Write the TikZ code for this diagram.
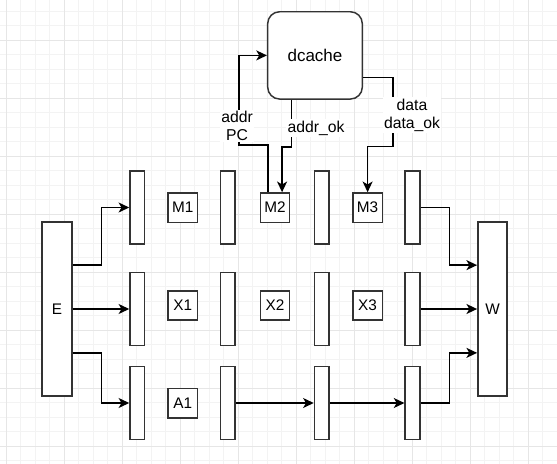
\documentclass[tikz,border=0pt]{standalone}
\usepackage{fontspec}
\setmainfont{Liberation Sans}
\usetikzlibrary{arrows.meta,calc}
\definecolor{gridminor}{HTML}{F3F3F3}
\definecolor{gridmajor}{HTML}{E6E6E6}
\definecolor{boxline}{HTML}{333333}
\tikzset{
  blk/.style={draw=boxline,line width=1.1pt,fill=white,inner sep=0pt},
  stage/.style={blk,minimum width=22.5pt,minimum height=130.5pt,font=\fontsize{11.5}{13}\selectfont},
  reg/.style={blk,minimum width=11pt,minimum height=54.75pt},
  unit/.style={blk,minimum width=22pt,minimum height=22pt,font=\fontsize{11.5}{13}\selectfont},
  cache/.style={blk,rounded corners=9pt,minimum width=71pt,minimum height=65.5pt,font=\fontsize{12.75}{14}\selectfont},
  lbl/.style={fill=white,inner sep=1pt,align=center,font=\fontsize{11.8}{13.5}\selectfont},
  wire/.style={draw=black,line width=1.1pt,-{Stealth[length=8pt,width=7.5pt,inset=2.2pt]}},
}
\begin{document}
\begin{tikzpicture}[x=0.75pt,y=-0.75pt]
\useasboundingbox (0,0) rectangle (557,464);
\fill[white] (0,0) rectangle (557,464);
% grid
\foreach \i in {0,...,38} {
  \draw[gridminor,line width=0.75pt] ({6.3+14.5*\i},0) -- ({6.3+14.5*\i},464);
}
\foreach \j in {0,...,32} {
  \draw[gridminor,line width=0.75pt] (0,{11.3+14.5*\j}) -- (557,{11.3+14.5*\j});
}
\foreach \i in {0,...,9} {
  \draw[gridmajor,line width=0.75pt] ({6.3+58*\i},0) -- ({6.3+58*\i},464);
}
\foreach \j in {-1,...,7} {
  \draw[gridmajor,line width=0.75pt] (0,{40.3+58*\j}) -- (557,{40.3+58*\j});
}
% big stages
\node[stage] (E) at (57,309) {E};
\node[stage,minimum width=22pt] (W) at (492.5,309) {W};
% registers
\node[reg] (r1M) at (137.3,207.5) {};
\node[reg] (r1X) at (137.3,309) {};
\node[reg] (r1A) at (137.3,403) {};
\node[reg] (r2M) at (227.6,207.5) {};
\node[reg] (r2X) at (227.6,309) {};
\node[reg] (r2A) at (227.6,403) {};
\node[reg] (r3M) at (321.8,207.5) {};
\node[reg] (r3X) at (321.8,309) {};
\node[reg] (r3A) at (321.8,403) {};
\node[reg] (r4M) at (412.5,207.5) {};
\node[reg] (r4X) at (412.5,309) {};
\node[reg] (r4A) at (412.5,403) {};
% units
\node[unit] (M1) at (182.8,207.6) {M1};
\node[unit] (X1) at (182.8,305.5) {X1};
\node[unit] (A1) at (182.8,403.4) {A1};
\node[unit] (M2) at (275,207.6) {M2};
\node[unit] (X2) at (275,305.5) {X2};
\node[unit] (M3) at (367.6,207.6) {M3};
\node[unit] (X3) at (367.6,305.5) {X3};
% dcache
\node[cache] (dc) at (315,55.4) {dcache};
% E -> registers
\draw[wire] ($(E.north east)!0.25!(E.south east)$) -- ++(29,0) |- (r1M.west);
\draw[wire] (E.east) -- (r1X.west);
\draw[wire] ($(E.north east)!0.75!(E.south east)$) -- ++(29,0) |- (r1A.west);
% A row
\draw[wire] (r2A.east) -- (r3A.west);
\draw[wire] (r3A.east) -- (r4A.west);
% registers -> W
\draw[wire] (r4M.east) -- ++(29,0) |- ($(W.north west)!0.25!(W.south west)$);
\draw[wire] (r4X.east) -- (W.west);
\draw[wire] (r4A.east) -- ++(29,0) |- ($(W.north west)!0.75!(W.south west)$);
% dcache connections
\coordinate (m2out) at ($(M2.north west)!0.27!(M2.north east)$);
\coordinate (m2in) at ($(M2.north west)!0.73!(M2.north east)$);
\coordinate (dcb) at ($(dc.south west)!0.255!(dc.south east)$);
\coordinate (dcr) at ($(dc.north east)!0.75!(dc.south east)$);
\draw[wire] (m2out) -- ++(0,-47) -- ++(-29,0) |- (dc.west);
\draw[wire] (dcb) -- ++(0,47) -| (m2in);
\draw[wire] (dcr) -- ++(30,0) -- ++(0,69) -| (M3.north);
% labels
\node[lbl] (lblA) at (237,126) {addr\\PC};
\node[lbl] (lblB) at (316,128) {addr\_ok};
\node[lbl] (lblC) at (412,115) {data\\data\_ok};
\end{tikzpicture}
\end{document}
